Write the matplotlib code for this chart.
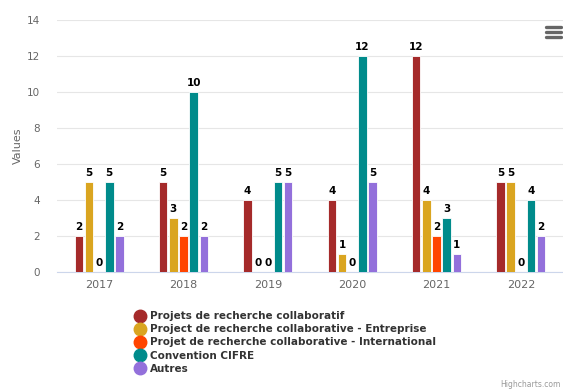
import numpy as np
import matplotlib.pyplot as plt
from matplotlib.lines import Line2D

years = ["2017", "2018", "2019", "2020", "2021", "2022"]
series_names = [
    "Projets de recherche collaboratif",
    "Project de recherche collaborative - Entreprise",
    "Projet de recherche collaborative - International",
    "Convention CIFRE",
    "Autres",
]
collaboratif = [2, 5, 4, 4, 12, 5]
entreprise = [5, 3, 0, 1, 4, 5]
international = [0, 2, 0, 0, 2, 0]
cifre = [5, 10, 5, 12, 3, 4]
autres = [2, 2, 5, 5, 1, 2]
colors = ["#a52a2a", "#daa520", "#ff4500", "#008b8b", "#9370db"]

series = [collaboratif, entreprise, international, cifre, autres]

fig = plt.figure(figsize=(5.63, 3.9), dpi=100)
ax = fig.add_axes([57 / 563, 118 / 390, 506 / 563, 252 / 390])

x = np.arange(len(years))
step = 0.12
width = 0.1
for i, (vals, col) in enumerate(zip(series, colors)):
    pos = x + (i - 2) * step
    ax.bar(pos, vals, width=width, color=col, edgecolor="white",
           linewidth=0.6, zorder=3)
    for xi, v in zip(pos, vals):
        ax.annotate(str(v), (xi, v), xytext=(0, 3), textcoords="offset points",
                    ha="center", va="bottom", fontsize=7.5, fontweight="bold",
                    color="#000000", zorder=4)

ax.set_xlim(-0.5, len(years) - 0.5)
ax.set_ylim(0, 14)
ax.set_yticks(range(0, 15, 2))
ax.set_xticks(x)
ax.set_xticklabels(years)
ax.grid(axis="y", color="#e6e6e6", linewidth=0.8, zorder=0)
for s in ("top", "right", "left"):
    ax.spines[s].set_visible(False)
ax.spines["bottom"].set_color("#ccd6eb")
ax.tick_params(axis="y", length=0, labelsize=7.5, labelcolor="#666666", pad=12)
ax.tick_params(axis="x", length=0, labelsize=8, labelcolor="#666666", pad=6)
ax.set_ylabel("Values", fontsize=8, color="#666666", labelpad=3)

handles = [Line2D([0], [0], marker="o", linestyle="", markersize=9,
                  markerfacecolor=c, markeredgecolor=c) for c in colors]
fig.legend(handles, series_names, loc="upper left", bbox_to_anchor=(131 / 563, 1 - 306 / 390),
           frameon=False, prop={"weight": "bold", "size": 7.5},
           handlelength=0.8, handletextpad=0.5, labelspacing=0.3,
           borderpad=0, labelcolor="#333333")

# menu icon
for dy in (0, 5, 10):
    fig.add_artist(Line2D([546 / 563, 561 / 563], [1 - (27 + dy) / 390] * 2,
                          color="#666666", linewidth=2.4, solid_capstyle="round"))

fig.text(0.995, 0.003, "Highcharts.com", ha="right", va="bottom",
         fontsize=5.5, color="#999999")

fig.savefig("out.png", dpi=100)
